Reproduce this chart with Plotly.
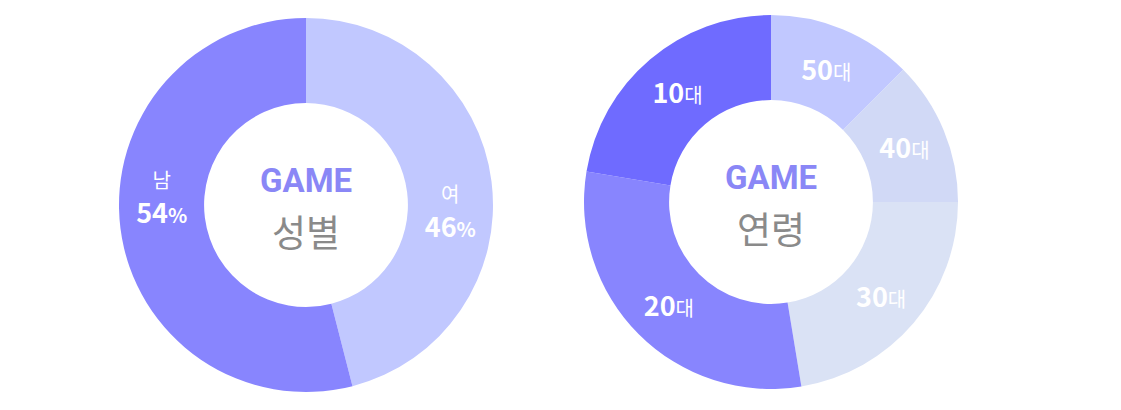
import plotly.graph_objects as go

# data
gender_labels = ["남", "여"]
gender_values = [54, 46]
age_labels = ["10대", "20대", "30대", "40대", "50대"]
age_values = [22.4, 30.2, 22.4, 12.5, 12.5]
center_words = ["성별", "연령"]

gender_colors = ["#8885fe", "#c1c8ff"]
age_colors = ["#6f6bff", "#8885fe", "#dae2f5", "#d1d9f6", "#c1c8ff"]

W, H = 1121, 410
FONT = "Noto Sans CJK KR"
CENTERS = [(306, 205), (771, 202)]
R = 187


def dom(cx, cy, r):
    return dict(x=[(cx - r) / W, (cx + r) / W], y=[(H - cy - r) / H, (H - cy + r) / H])


gender_text = [f"<span style='font-size:20px'>{l}</span><br><b>{v}</b><span style='font-size:20px'><b>%</b></span>"
               for l, v in zip(gender_labels, gender_values)]
age_text = [f"<b>{l[:-1]}</b><span style='font-size:20px'>{l[-1]}</span>" for l in age_labels]

# slices are laid out clockwise from 12 o'clock, last category first
g_lab, g_val, g_col, g_txt = gender_labels[::-1], gender_values[::-1], gender_colors[::-1], gender_text[::-1]
a_lab, a_val, a_col, a_txt = age_labels[::-1], age_values[::-1], age_colors[::-1], age_text[::-1]

fig = go.Figure()

# left donut (slices)
fig.add_trace(go.Pie(
    labels=g_lab, values=g_val, sort=False, direction="clockwise",
    rotation=0, hole=0.545, domain=dom(*CENTERS[0], R),
    marker=dict(colors=g_col, line=dict(width=0)),
    textinfo="none", hoverinfo="label+percent",
))
# left donut labels (transparent overlay, rotated to match label placement)
fig.add_trace(go.Pie(
    labels=g_lab, values=g_val, sort=False, direction="clockwise",
    rotation=10, hole=0.545, domain=dom(*CENTERS[0], R),
    marker=dict(colors=["rgba(0,0,0,0)"] * 2, line=dict(width=0)),
    text=g_txt, textinfo="text", textposition="inside", insidetextorientation="horizontal",
    textfont=dict(family=FONT, size=27, color="white"), hoverinfo="skip",
))
# right donut
fig.add_trace(go.Pie(
    labels=a_lab, values=a_val, sort=False, direction="clockwise",
    rotation=0, hole=0.545, domain=dom(*CENTERS[1], R),
    marker=dict(colors=a_col, line=dict(width=0)),
    text=a_txt, textinfo="text", textposition="inside", insidetextorientation="horizontal",
    textfont=dict(family=FONT, size=27, color="white"), hoverinfo="label+percent",
))

# center texts
for (cx, cy), word in zip(CENTERS, center_words):
    fig.add_annotation(x=cx / W, y=(H - cy) / H, xref="paper", yref="paper", showarrow=False,
                       text="<b>GAME</b>", yshift=25, xanchor="center", yanchor="middle",
                       font=dict(family="Roboto", size=33, color="#8a87f6"))
    fig.add_annotation(x=cx / W, y=(H - cy) / H, xref="paper", yref="paper", showarrow=False,
                       text=word, yshift=-26, xanchor="center", yanchor="middle",
                       font=dict(family=FONT, size=37, color="#8a8a8a"))

fig.update_layout(
    width=W, height=H, margin=dict(l=0, r=0, t=0, b=0),
    showlegend=False, paper_bgcolor="white", plot_bgcolor="white",
    font=dict(family=FONT),
)
fig.write_html("out.html")
